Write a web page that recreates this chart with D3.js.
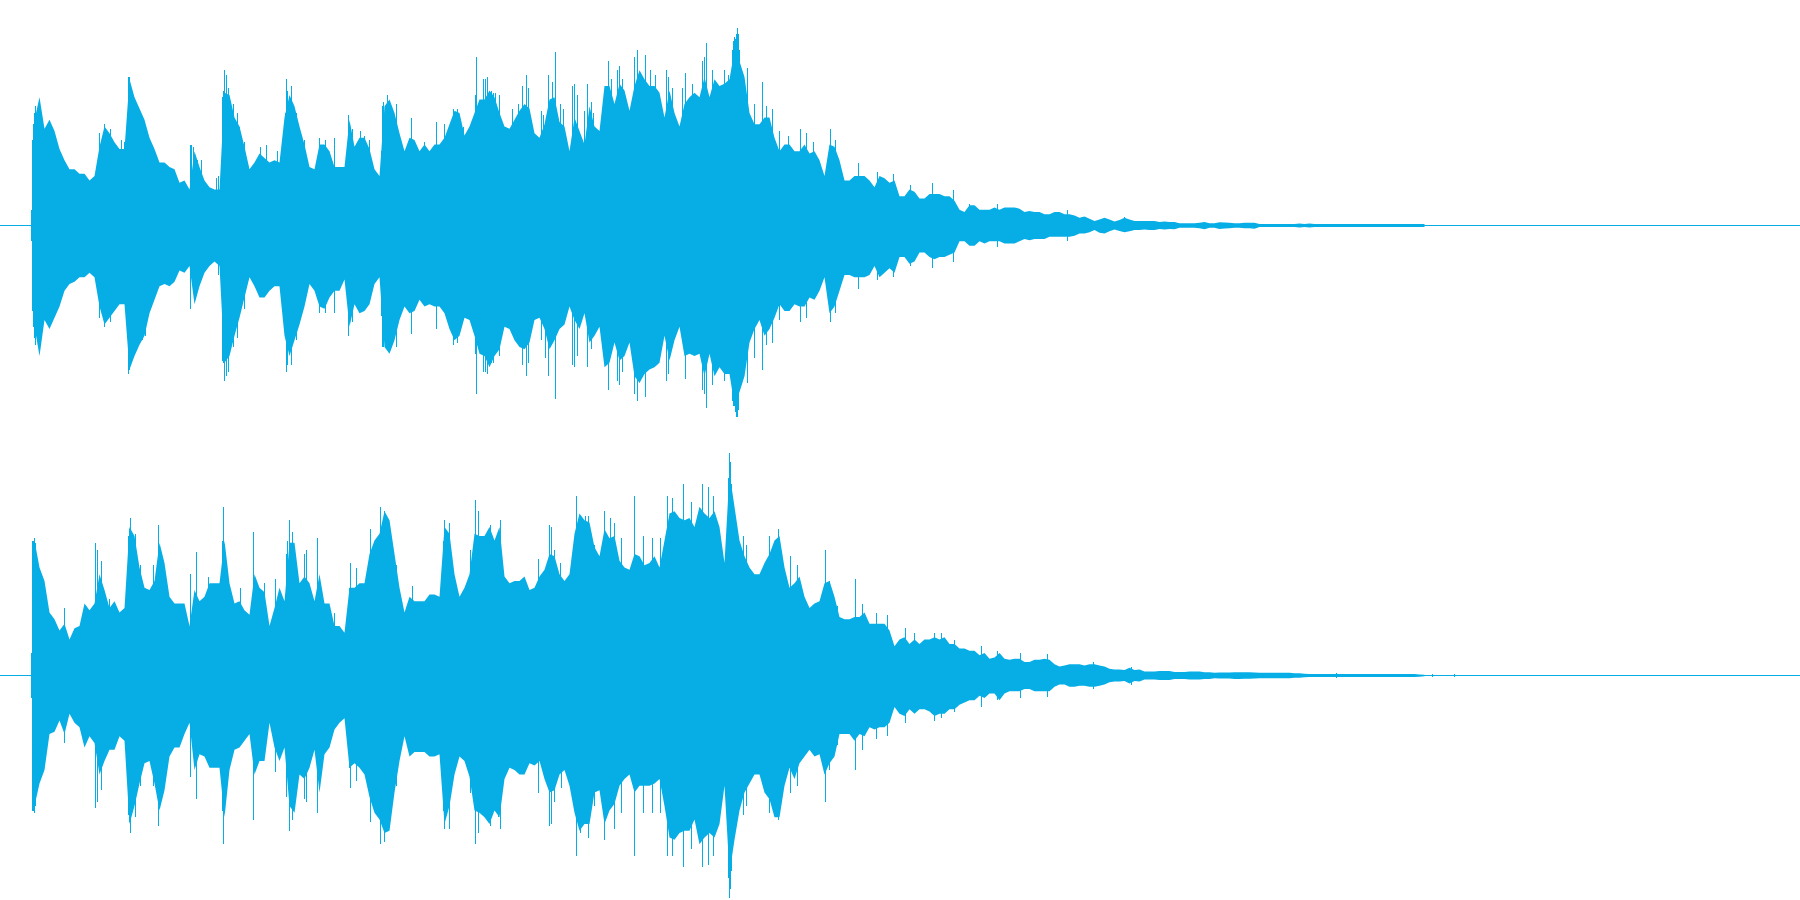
<!DOCTYPE html>
<html>
<head>
<meta charset="utf-8">
<title>Waveform</title>
<script src="https://cdn.jsdelivr.net/npm/d3@7"></script>
<style>html,body{margin:0;padding:0;background:#fff;overflow:hidden}svg{display:block}</style>
</head>
<body>
<div id="chart"></div>
<script>
// Peak envelope per channel, % of full scale, one value per 5-column frame.
const ch1Top = [
47,57,43,47,42,34,29,25,25,23,23,20,22,35,44,41,37,34,34,65,
57,52,47,39,34,28,28,26,25,19,20,16,33,26,20,17,16,16,59,58,
48,44,35,25,28,32,30,28,29,28,48,58,53,44,36,26,25,36,36,33,
26,26,26,47,35,39,39,34,25,22,53,56,50,41,33,39,38,33,36,33,
36,36,39,45,51,50,40,44,50,56,56,60,57,
50,44,43,47,51,54,52,41,39,45,56,57,46,44,33,48,42,36,53,44,
42,62,62,54,63,60,51,62,69,65,62,62,59,48,60,50,44,54,57,59,
57,66,57,65,62,63,65,78,73,66,50,45,45,48,48,39,33,36,36,33,
33,36,32,33,29,22,36,35,29,20,20,22,22,22,20,17,22,21,19,20,
13,13,16,15,12,12,14,14,14,13,13,11,7,6,9,9,7,
7,7,8,7,8,8,8,7.5,6,6.5,6,6,5,5,6,6,5,5,4.5,3.4,
4,3,2,2.7,3.4,2.7,1.8,2.4,3.5,2.7,2,2,2,2,2,1.6,1.8,1.6,1.6,1,
1,1,1,1.2,1.6,1,1,1.5,1.3,1.2,1,1,1.2,1.2,1.2,.7,.7,.7,.7,.7,
.7,.7,.7,.9,.7,.9,.7,.7,.7,.7,.7,.7,.7,.7,.7,.7,.7,.7,.7,.7,
.7,.7,.7,.7,.7,.7,.7,.7,.7];
const ch1Bottom = [
45,58,42,46,41,36,29,26,25,23,23,21,23,36,44,41,38,35,35,64,
58,53,49,39,33,27,26,27,25,20,21,18,35,27,21,18,16,18,61,58,
49,41,32,23,27,32,32,29,27,27,49,58,51,44,36,26,29,36,37,32,
29,29,24,45,35,39,38,35,26,23,54,57,51,42,36,39,38,33,36,35,
36,36,39,46,51,49,41,42,49,57,58,63,58,
55,45,46,51,54,55,52,42,41,46,55,51,46,44,36,42,46,39,52,49,
45,63,61,52,60,58,52,67,70,66,64,63,61,49,60,51,45,58,57,58,
57,67,57,67,63,66,66,80,74,67,52,46,42,49,46,41,35,38,38,35,
36,36,32,33,29,23,39,36,29,22,22,23,23,23,22,18,23,21,19,21,
14,14,17,16,12,12,14,15,14,14,13,12,7,7,9,9,7,
8,7,7,7,8,8,8,7,6,6.5,6,6,6,5,5,5,5,5,4.5,3.6,
3.6,3,2,3.2,3.6,2.6,1.8,2.4,3,2.6,2,2,1.8,2,2,1.6,1.8,1.6,1.7,1,
1,1,1,1.2,1.7,1,1,1.6,1.3,1.2,1,1,1.2,1.2,1.4,.7,.7,.7,.7,.7,
.7,.7,.7,.9,.7,.9,.7,.7,.7,.7,.7,.7,.7,.7,.7,.7,.7,.7,.7,.7,
.7,.7,.7,.7,.7,.7,.7,.7,.7];
const ch2Top = [
60,48,42,28,25,20,23,16,21,22,32,29,32,45,38,30,33,28,30,66,
62,48,39,38,42,59,50,35,32,32,32,22,38,33,35,41,41,41,60,41,
32,33,29,27,45,39,37,22,30,39,33,59,59,41,44,41,33,45,32,32,
22,22,19,39,39,41,41,54,60,63,73,69,54,39,28,35,33,33,33,36,
36,35,66,63,45,35,39,45,63,62,62,66,60,
66,44,41,42,42,44,38,39,44,47,54,53,45,42,45,63,72,69,68,57,
53,65,61,62,51,48,47,54,53,49,50,53,48,60,72,73,70,69,70,66,
75,72,70,73,66,50,90,75,60,53,48,45,45,50,54,60,62,48,39,41,
44,35,30,32,33,41,42,35,26,25,25,26,26,28,23,23,23,23,20,13,
16,17,14,16,14,16,16,17,16,17,14,14,12,12,11,11,9,
10,7.5,8,10,7.5,7,7.5,7.5,6,6,7,7,7.5,7,5,4,4.5,5,5,5,
4.5,5,5,4.5,4,3,2.7,2.7,2.4,3.4,2.4,2.7,1.8,1.8,1.8,2,2,2,1.6,1.6,
1.6,1.8,1.8,1.8,1.5,1.5,1.2,1.3,1.3,1.3,1.5,1.5,1.4,1.4,1.3,1.2,1.2,1.2,1.2,1.2,
1.2,1.2,1,1,.8,.7,.7,.7,.7,.7,.7,.7,.7,.7,.7,.7,.7,.7,.7,.7,
.7,.7,.7,.7,.7,.7,.7,.5,.3];
const ch2Bottom = [
58,48,42,26,25,20,26,17,21,23,32,27,30,44,38,33,33,27,29,66,
58,48,39,38,48,60,51,36,32,32,26,21,42,35,36,41,41,41,63,42,
33,32,29,26,44,38,38,21,32,38,32,58,61,44,46,41,33,52,35,32,
24,21,19,41,39,41,44,54,61,64,70,69,52,38,27,36,34,34,34,36,
36,35,66,58,44,36,38,45,60,61,63,66,60,
63,46,41,42,44,44,39,40,38,46,52,51,44,42,49,61,69,66,66,52,
51,66,60,57,49,46,44,52,49,49,49,48,46,58,72,73,70,69,69,64,
75,72,70,72,66,49,88,73,60,52,48,44,44,52,55,63,63,49,41,46,
39,36,33,36,35,44,39,36,26,26,26,29,26,27,23,24,23,23,21,14,
17,18,15,17,15,15,16,18,17,17,15,15,13,12,11,11,9,
10,8,8,11,8,7,7,7,6,6,7,7,7,7,5,4,4,5,5,4.5,
4.5,5,5,4.5,4,3,2.7,2.7,2.4,3.6,2.4,2.7,1.8,1.8,1.8,2,2,2,1.6,1.6,
1.6,1.8,1.8,1.8,1.5,1.5,1.2,1.3,1.3,1.3,1.5,1.5,1.4,1.4,1.3,1.2,1.2,1.2,1.2,1.2,
1.2,1.2,1,1,.8,.7,.7,.7,.7,.7,.7,.7,.7,.7,.7,.7,.7,.7,.7,.7,
.7,.7,.7,.7,.7,.7,.7,.5,.3];

// Single-column transients: [column, % of full scale].
const ch1TopPeaks = [[31,7],[32,38],[33,45],[34,50],[35,53],[99,41],[104,45],[110,43],[121,38],[124,37],[127,50],[128,66],[129,66],[190,36],[191,36],[193,35],[197,29],[201,29],[216,21],[218,22],[222,57],[223,60],[224,69],[226,67],[228,61],[233,54],[237,50],[239,44],[244,37],[260,35],[266,36],[277,33],[285,50],[286,65],[287,60],[291,62],[296,50],[304,38],[319,39],[325,38],[334,39],[348,49],[352,43],[360,42],[364,40],[369,38],[381,33],[382,53],[383,55],[387,58],[396,54],[411,48],[424,37],[436,46],[444,45],[453,52],[457,52],[463,44],[475,58],[476,75],[483,65],[485,65],[487,66],[491,60],[493,59],[495,59],[499,58],[512,52],[518,54],[522,62],[526,67],[528,61],[541,51],[543,49],[548,67],[552,64],[555,77],[560,54],[563,52],[572,62],[574,63],[577,58],[584,51],[587,63],[591,55],[593,50],[608,73],[611,65],[617,69],[619,71],[622,65],[634,75],[637,78],[645,76],[650,69],[655,67],[666,69],[668,66],[672,61],[682,61],[685,68],[692,63],[702,73],[704,75],[706,81],[712,69],[724,69],[728,67],[732,78],[733,82],[734,84],[735,83],[736,85],[737,88],[738,85],[739,78],[747,70],[754,54],[762,64],[766,53],[772,52],[779,42],[788,40],[800,43],[806,41],[813,37],[830,43],[835,38],[858,28],[877,24],[893,23],[910,18],[932,19],[953,16],[969,9.5],[997,9.5],[1067,7],[1124,4]];
const ch1BottomPeaks = [[31,7],[32,38],[33,45],[34,50],[35,53],[99,41],[104,45],[110,43],[127,50],[128,66],[129,64],[142,51],[145,49],[190,37],[218,22],[222,60],[223,61],[224,69],[226,67],[228,65],[233,54],[237,50],[244,37],[285,49],[286,65],[287,62],[291,62],[296,51],[298,44],[319,39],[325,39],[334,39],[348,49],[352,43],[381,40],[382,54],[383,54],[396,54],[411,48],[436,46],[453,53],[457,52],[475,57],[476,75],[483,65],[485,65],[487,66],[491,61],[493,61],[499,58],[522,62],[526,67],[528,61],[541,51],[545,59],[548,67],[555,77],[572,62],[574,63],[577,58],[587,63],[591,55],[608,73],[617,69],[619,71],[622,65],[634,75],[637,78],[645,76],[666,69],[668,66],[685,68],[702,73],[704,75],[706,81],[712,71],[724,69],[732,78],[733,80],[734,80],[735,83],[736,85],[737,85],[738,82],[747,70],[754,59],[762,64],[766,53],[772,52],[779,42],[800,43],[806,41],[830,43],[835,39],[858,28],[877,24],[893,23],[910,18],[932,19],[953,16],[997,9.5],[1067,7]];
const ch2TopPeaks = [[31,10],[32,60],[33,60],[34,61],[35,59],[64,30],[95,59],[97,56],[101,51],[109,34],[127,45],[128,62],[129,65],[130,70],[135,63],[140,49],[153,49],[158,67],[190,45],[196,55],[208,44],[222,60],[223,75],[226,47],[240,39],[253,64],[264,41],[275,43],[286,54],[287,60],[289,69],[292,64],[304,54],[306,56],[317,61],[334,28],[349,39],[350,50],[356,48],[370,65],[380,75],[384,73],[396,49],[412,40],[443,60],[444,69],[449,68],[470,56],[475,78],[478,73],[490,67],[498,62],[500,69],[538,52],[549,67],[551,66],[554,56],[560,50],[576,80],[580,70],[585,71],[588,71],[594,58],[604,73],[610,70],[614,68],[621,61],[634,80],[643,62],[652,61],[660,61],[667,80],[672,79],[683,85],[691,77],[702,85],[708,84],[713,80],[728,88],[729,99],[730,95],[731,85],[743,62],[746,58],[769,62],[778,65],[790,53],[797,49],[825,56],[829,42],[837,31],[855,43],[862,32],[876,28],[887,27],[905,21],[914,19],[934,19],[941,19],[954,16],[981,13],[997,11],[1020,10],[1047,9.5],[1093,6],[1131,4],[1336,1.2],[1432,.6],[1454,.7]];
const ch2BottomPeaks = [[31,10],[32,60],[33,60],[34,61],[35,58],[64,30],[95,59],[97,56],[101,51],[127,45],[128,62],[129,65],[130,70],[135,63],[140,49],[153,49],[158,67],[190,45],[196,55],[222,60],[223,75],[226,47],[253,64],[275,43],[286,54],[289,69],[292,64],[304,55],[306,56],[317,61],[349,41],[350,50],[356,47],[370,65],[380,75],[384,74],[396,49],[443,60],[444,68],[449,68],[470,52],[475,75],[478,70],[490,67],[498,63],[500,68],[538,52],[549,67],[551,66],[554,56],[561,50],[576,80],[580,70],[588,72],[594,58],[604,73],[614,68],[621,61],[634,80],[643,61],[652,61],[660,61],[667,80],[672,80],[683,85],[691,77],[702,85],[708,84],[713,80],[728,90],[729,99],[730,95],[731,87],[743,62],[746,58],[769,61],[778,64],[790,52],[797,49],[825,56],[829,42],[837,31],[855,42],[862,33],[876,28],[887,27],[905,21],[934,20],[941,19],[954,16],[981,14],[997,11],[1020,10],[1047,9.5],[1093,6],[1131,4],[1336,1.2],[1432,.6],[1454,.7]];

const W = 1800, H = 900, COLOR = "#07aee6";
const frames = d3.range(ch1Top.length);
const columnX = d3.scaleLinear().domain([0, W]).range([0, W]);
const frameX = d3.scaleBand().domain(frames)
  .range([columnX(32), columnX(32 + frames.length * 5)]);

const channels = [
  {top: ch1Top, bottom: ch1Bottom, topPeaks: ch1TopPeaks, bottomPeaks: ch1BottomPeaks,
   y: d3.scaleLinear().domain([-100, 100]).range([H / 2 + 0.5, 0.5])},
  {top: ch2Top, bottom: ch2Bottom, topPeaks: ch2TopPeaks, bottomPeaks: ch2BottomPeaks,
   y: d3.scaleLinear().domain([-100, 100]).range([H + 0.5, H / 2 + 0.5])}
];

const svg = d3.select("#chart").append("svg")
  .attr("width", W).attr("height", H).attr("viewBox", `0 0 ${W} ${H}`);

const groups = svg.selectAll("g.channel").data(channels).join("g")
  .attr("class", "channel")
  .attr("fill", COLOR);

groups.append("line")
  .attr("x1", columnX(0)).attr("x2", columnX(W))
  .attr("y1", c => c.y(0)).attr("y2", c => c.y(0))
  .attr("stroke", COLOR).attr("stroke-width", 1)
  .attr("shape-rendering", "crispEdges");

groups.each(function (c) {
  const g = d3.select(this);
  const envelope = d3.area()
    .x(i => frameX(i) + frameX.bandwidth() / 2)
    .y0(i => c.y(-c.bottom[i]))
    .y1(i => c.y(c.top[i]));
  g.append("path").attr("d", envelope(frames));
  const peaks = g.append("g").attr("shape-rendering", "crispEdges");
  peaks.append("g").selectAll("rect").data(c.topPeaks).join("rect")
    .attr("x", d => columnX(d[0])).attr("width", 1)
    .attr("y", d => c.y(d[1]))
    .attr("height", d => c.y(0) - c.y(d[1]));
  peaks.append("g").selectAll("rect").data(c.bottomPeaks).join("rect")
    .attr("x", d => columnX(d[0])).attr("width", 1)
    .attr("y", c.y(0))
    .attr("height", d => c.y(-d[1]) - c.y(0));
});
</script>
</body>
</html>
